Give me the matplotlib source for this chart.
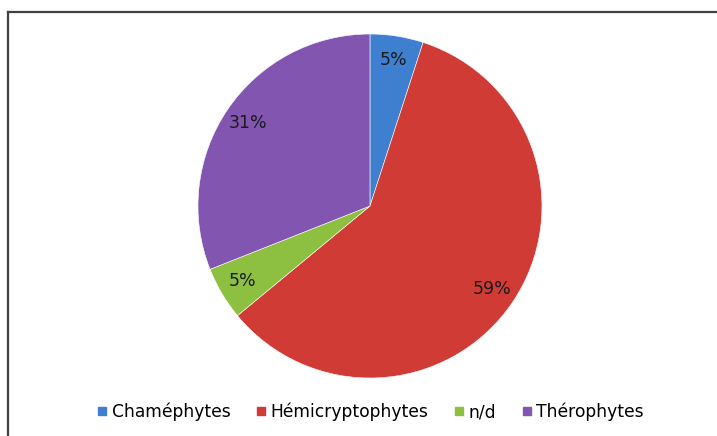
import numpy as np
import matplotlib.pyplot as plt
from matplotlib.lines import Line2D

labels = ['Chaméphytes', 'Hémicryptophytes', 'n/d', 'Thérophytes']
values = [5, 59, 5, 31]
colors = ['#3f7fd0', '#d03b36', '#8dc040', '#8256b0']

fig = plt.figure(figsize=(7.17, 4.36), dpi=100)
ax = fig.add_axes([0.276, 0.133, 0.48, 0.789])

wedges, texts = ax.pie(values, colors=colors, startangle=90, counterclock=False,
                       radius=1, wedgeprops=dict(edgecolor='white', linewidth=0.4))
for w, v in zip(wedges, values):
    ang = np.deg2rad((w.theta1 + w.theta2) / 2)
    d = 0.86
    ax.text(d * np.cos(ang), d * np.sin(ang), '%d%%' % v, ha='center', va='center',
            fontsize=12.5, color='#1a1a1a')
ax.set_xlim(-1, 1)
ax.set_ylim(-1, 1)
ax.set_aspect('equal')
ax.axis('off')

# cadre autour du graphique
fig.add_artist(Line2D([0.0112, 0.0112], [0, 0.9725], color='#404040', lw=1.6,
                      transform=fig.transFigure))
fig.add_artist(Line2D([0.0112, 1], [0.9725, 0.9725], color='#404040', lw=1.6,
                      transform=fig.transFigure))

handles = [Line2D([], [], marker='s', linestyle='', markersize=6, color=c) for c in colors]
fig.legend(handles, labels, loc='center', bbox_to_anchor=(0.517, 0.055), ncol=4,
           frameon=False, fontsize=12.3, handlelength=0.6, handletextpad=0.25,
           columnspacing=1.5)

fig.savefig('out.png', dpi=100)
